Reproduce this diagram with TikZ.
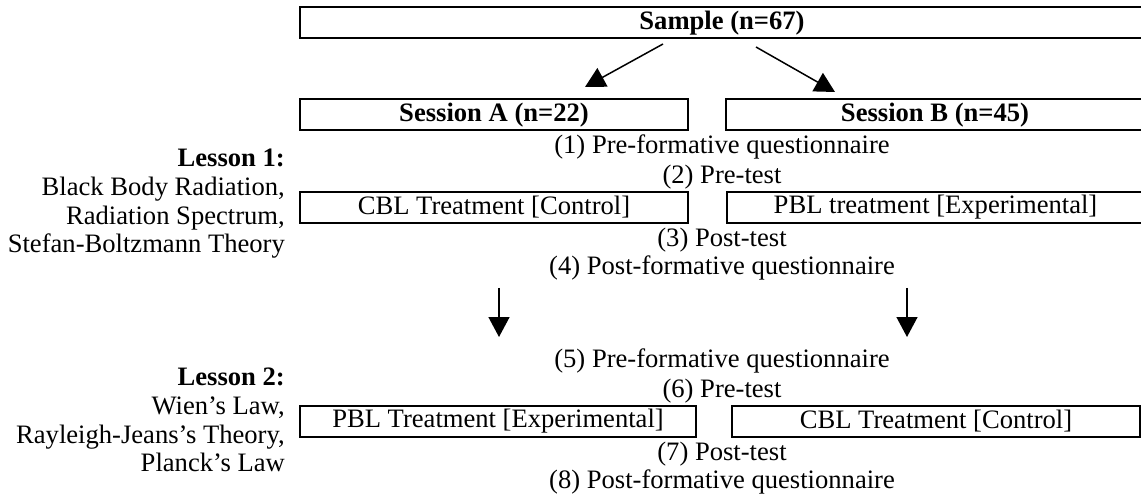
\documentclass[tikz,border=0pt]{standalone}
\usepackage{fontspec}
\setmainfont{Liberation Serif}
\usetikzlibrary{arrows.meta}
\begin{document}
\begin{tikzpicture}[x=1pt,y=-1pt,
  every node/.style={font=\fontsize{26.6}{28.7}\selectfont, inner sep=0pt},
  box/.style={draw, line width=2pt, minimum height=31pt, anchor=center},
  arr/.style={line width=1.5pt, -{Triangle[width=21pt,length=20pt]}}]
\useasboundingbox (0,0) rectangle (1141,497);
% top
\node[box, minimum width=844pt] (sample) at (722,23) {\bfseries Sample (n=67)};
\node[box, minimum width=388pt] (sessA) at (494,115) {\bfseries Session A (n=22)};
\node[box, minimum width=418pt] (sessB) at (935,115) {\bfseries Session B (n=45)};
\coordinate (d1s) at (663,44); \coordinate (d1e) at (585,87);
\coordinate (d2s) at (756,47); \coordinate (d2e) at (835,92);
\draw[arr] (d1s) -- (d1e);
\draw[arr] (d2s) -- (d2e);
% lesson 1
\node[anchor=east, align=right] (l1) at (285,204) {\textbf{Lesson 1:}\\Black Body Radiation,\\Radiation Spectrum,\\Stefan-Boltzmann Theory};
\node (q1) at (722,147) {(1) Pre-formative questionnaire};
\node (q2) at (722,177) {(2) Pre-test};
\node[box, minimum width=388pt] (t1a) at (494,207.5) {CBL Treatment [Control]};
\node[box, minimum width=417pt] (t1b) at (935.5,207.5) {PBL treatment [Experimental]};
\node (q3) at (722,240) {(3) Post-test};
\node (q4) at (722,268) {(4) Post-formative questionnaire};
% down arrows
\coordinate (v1s) at (499,288); \coordinate (v1e) at (499,337);
\coordinate (v2s) at (907,288); \coordinate (v2e) at (907,337);
\draw[arr] (v1s) -- (v1e);
\draw[arr] (v2s) -- (v2e);
% lesson 2
\node[anchor=east, align=right] (l2) at (285,420) {\textbf{Lesson 2:}\\Wien’s Law,\\Rayleigh-Jeans’s Theory,\\Planck’s Law};
\node (q5) at (722,361) {(5) Pre-formative questionnaire};
\node (q6) at (722,391) {(6) Pre-test};
\node[box, minimum width=396pt] (t2a) at (498,421.5) {PBL Treatment [Experimental]};
\node[box, minimum width=408pt] (t2b) at (936,421.5) {CBL Treatment [Control]};
\node (q7) at (722,454) {(7) Post-test};
\node (q8) at (722,482) {(8) Post-formative questionnaire};
\end{tikzpicture}
\end{document}
